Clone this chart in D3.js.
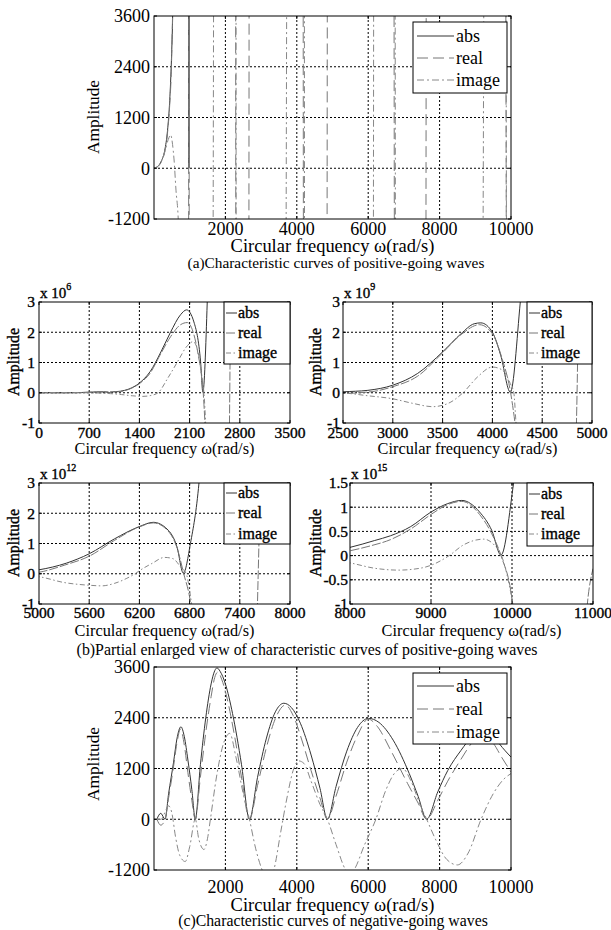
<!DOCTYPE html>
<html>
<head>
<meta charset="utf-8">
<script src="https://cdnjs.cloudflare.com/ajax/libs/d3/7.8.5/d3.min.js"></script>
<style>
body { margin: 0; background: #fff; }
svg { display: block; }
text { font-family: "Liberation Serif", "Times New Roman", serif; fill: #000; }
.heavy { stroke: #000; stroke-width: 0.35; }
</style>
</head>
<body>
<svg width="611" height="930"></svg>
<script>
const svg = d3.select("svg");

// --- POSITIVE-GOING WAVES: [omega (rad/s), value] ---
const posAbs = [
  [0, 0], [100, 40], [200, 160], [300, 420], [380, 900], [440, 1600], [490, 2600], [523, 3600],
  [560, 5500], [700, 1.8e4], [900, 3.2e4], [965, 2e4], [978, 0], [991, 2e4], [1134, 5e4],
  [1250, 1.2e5], [1400, 3.2e5], [1550, 7e5], [1700, 1.35e6], [1834, 2.0e6], [1974, 2.58e6],
  [2058, 2.74e6], [2160, 2.34e6], [2254, 1.0e6], [2285, 2e4], [2346, 3e6], [2400, 8e6],
  [2500, 3e7], [2750, 8e7], [3000, 2.5e8], [3250, 6.4e8], [3500, 1.35e9], [3685, 1.95e9],
  [3817, 2.28e9], [3884, 2.31e9], [4000, 2.0e9], [4083, 1.24e9], [4180, 2e7], [4280, 3e9],
  [4400, 8e9], [4700, 3e10], [5000, 1.3e11], [5327, 3.5e11], [5600, 6.6e11], [5900, 1.15e12],
  [6200, 1.56e12], [6366, 1.7e12], [6530, 1.48e12], [6650, 0.88e12], [6725, 2e10], [6810, 1e12],
  [6912, 3e12], [7200, 2e13], [7600, 6e13], [8000, 1.7e14], [8300, 3.1e14], [8500, 4.1e14],
  [8750, 6e14], [9000, 9e14], [9200, 1.07e15], [9380, 1.14e15], [9600, 0.9e15], [9750, 0.52e15],
  [9864, 1e13], [10020, 1.5e15], [10500, 1e16], [11000, 2e16]
];
const posReal = [
  [0, 0], [100, 35], [200, 145], [300, 390], [380, 850], [440, 1500], [490, 2450], [515, 3400],
  [560, 5500], [700, 1.5e4], [900, 2.8e4], [965, 2e4], [978, -3e4], [991, 2e4], [1134, 4e4],
  [1250, 1.1e5], [1400, 3e5], [1550, 6.5e5], [1700, 1.3e6], [1834, 1.85e6], [1974, 2.25e6],
  [2067, 2.32e6], [2150, 2.0e6], [2220, 1.25e6], [2290, 0], [2314, -1e6], [2420, -8e6],
  [2560, -1.5e7], [2620, -1e7], [2660, 0], [2720, 1.5e7], [2800, 4e7], [3000, 2e8],
  [3250, 5.5e8], [3500, 1.32e9], [3685, 1.92e9], [3870, 2.25e9], [4000, 1.95e9], [4100, 1.1e9],
  [4183, 0], [4227, -1e9], [4400, -8e9], [4650, -1e10], [4800, -5e9], [4850, 0], [4920, 2e10],
  [5000, 5e10], [5300, 2.8e11], [5600, 5.8e11], [5900, 1.1e12], [6200, 1.55e12], [6366, 1.68e12],
  [6530, 1.45e12], [6650, 0.85e12], [6730, 0], [6813, -1e12], [7000, -8e12], [7400, -1e13],
  [7570, -5e12], [7620, 0], [7700, 1e13], [8000, 1e14], [8250, 2e14], [8500, 3.3e14],
  [8750, 5.5e14], [9000, 8.5e14], [9200, 1.05e15], [9380, 1.12e15], [9600, 0.85e15],
  [9750, 0.45e15], [9864, 0], [10008, -1e15], [10300, -1e16], [10700, -1e16], [10930, -1e15],
  [11000, -2.7e14]
];
const posImag = [
  [0, 0], [100, 40], [200, 150], [300, 380], [400, 680], [467, 790], [520, 560], [560, 220],
  [616, -520], [681, -1250], [750, -3500], [850, -1e4], [1000, -3e4], [1150, -6e4], [1300, -1e5],
  [1450, -1.2e5], [1560, -9e4], [1660, 0], [1800, 5e5], [1950, 1.1e6], [2050, 1.5e6],
  [2150, 1.69e6], [2230, 1.2e6], [2280, 3e5], [2300, 0], [2324, -1e6], [2420, -6e6], [2500, -1e7],
  [2750, -1e8], [3000, -2e8], [3200, -3.5e8], [3400, -4.6e8], [3550, -3.6e8], [3705, 0],
  [3850, 5.2e8], [4000, 8.5e8], [4100, 7.5e8], [4180, 3e8], [4215, 0], [4237, -1e9], [4500, -1e10],
  [5000, -1e11], [5300, -2.9e11], [5600, -3.8e11], [5750, -4e11], [5900, -3.2e11], [6050, -1.5e11],
  [6148, 0], [6200, 1e11], [6350, 3.4e11], [6500, 5.4e11], [6600, 5e11], [6700, 2e11], [6760, 0],
  [6825, -1e12], [7200, -1e13], [8000, -1.5e14], [8300, -2.6e14], [8600, -3e14], [8900, -2.5e14],
  [9000, -2e14], [9224, 0], [9400, 2.2e14], [9650, 3.4e14], [9780, 2.2e14], [9870, 0],
  [10010, -1e15], [10500, -1e16], [11000, -2e16]
];

// --- NEGATIVE-GOING WAVES ---
const negAbs = [
  [80, 0], [190, 140], [310, 0], [408, 600], [548, 1350], [642, 1900], [754, 2186], [850, 1950],
  [950, 1400], [1060, 700], [1157, 0], [1300, 1290], [1450, 2400], [1600, 3200], [1700, 3510],
  [1765, 3578], [1850, 3500], [2000, 3200], [2200, 2500], [2450, 1300], [2673, 0], [2900, 990],
  [3150, 1920], [3400, 2540], [3637, 2743], [3850, 2640], [4100, 2270], [4400, 1520], [4650, 730],
  [4857, 0], [5100, 775], [5400, 1610], [5700, 2170], [6008, 2385], [6300, 2290], [6700, 1870],
  [7150, 1080], [7400, 540], [7637, 0], [7950, 650], [8227, 1150], [8601, 1630], [8900, 1950],
  [9200, 2130], [9450, 2050], [9678, 1780], [10000, 1470]
];
const negReal = [
  [80, 0], [190, -140], [310, 0], [408, 500], [548, 1250], [642, 1800], [740, 2130], [850, 1750],
  [950, 1100], [1060, 450], [1157, 0], [1300, 1000], [1450, 2050], [1600, 2900], [1700, 3350],
  [1790, 3480], [1900, 3300], [2050, 2850], [2250, 2000], [2450, 1000], [2673, 0], [2900, 800],
  [3150, 1700], [3400, 2380], [3680, 2700], [3900, 2450], [4150, 1850], [4400, 1150], [4650, 500],
  [4857, 0], [5100, 550], [5400, 1350], [5700, 1980], [6000, 2370], [6250, 2200], [6650, 1600],
  [7100, 850], [7400, 380], [7637, 0], [7950, 450], [8227, 900], [8600, 1420], [8900, 1800],
  [9200, 2000], [9500, 1800], [9750, 1450], [10000, 1120]
];
const negImag = [
  [80, 0], [200, 0], [300, 150], [408, 318], [500, 150], [600, -400], [720, -850], [876, -1000],
  [1000, -650], [1157, 0], [1250, -450], [1400, -715], [1500, -450], [1580, 0], [1750, 1000],
  [1950, 1800], [2120, 2030], [2300, 1450], [2500, 600], [2673, 0], [2850, -700], [3030, -1200],
  [3200, -1450], [3356, -1200], [3550, -300], [3700, 400], [3917, 1200], [4050, 1380], [4200, 1320],
  [4400, 900], [4650, 350], [4857, 0], [5100, -600], [5370, -1200], [5480, -1300], [5600, -1200],
  [5900, -600], [6215, 0], [6500, 700], [6750, 1100], [6963, 1200], [7200, 900], [7450, 350],
  [7637, 0], [7900, -500], [8200, -950], [8500, -1080], [8800, -800], [9163, 0], [9500, 600],
  [9800, 950], [10000, 1080]
];

// --- TICKS AND TEXTS ---
const ticksWideX = [2000, 4000, 6000, 8000, 10000];
const ticksWideY = [-1200, 0, 1200, 2400, 3600];
const ticksB1X = [0, 700, 1400, 2100, 2800, 3500];
const ticksB2X = [2500, 3000, 3500, 4000, 4500, 5000];
const ticksB3X = [5000, 5600, 6200, 6800, 7400, 8000];
const ticksB4X = [8000, 9000, 10000, 11000];
const ticksBY = [-1, 0, 1, 2, 3];
const ticksB4Y = [-1, -0.5, 0, 0.5, 1, 1.5];
const legendNames = ["abs", "real", "image"];
const xTitle = "Circular frequency \u03c9(rad/s)";
const yTitle = "Amplitude";
const captionA = "(a)Characteristic curves of positive-going waves";
const captionB = "(b)Partial enlarged view of characteristic curves of positive-going waves";
const captionC = "(c)Characteristic curves of negative-going waves";

// --- LINE STYLES ---
const wideStyle = [
  { color: "#333", dash: null },
  { color: "#777", dash: "11,5" },
  { color: "#888", dash: "7,3,2,3" }
];
const smallStyle = [
  { color: "#333", dash: null },
  { color: "#777", dash: "9,2" },
  { color: "#888", dash: "5,2.5,1.5,2.5" }
];

function fitText(sel, target) {
  const w = sel.node().getComputedTextLength();
  const fs = parseFloat(sel.attr("font-size"));
  sel.attr("font-size", (fs * target / w).toFixed(2));
}

function drawPanel(p) {
  const x = d3.scaleLinear().domain(p.xDomain).range([p.left, p.right]);
  const y = d3.scaleLinear().domain(p.yDomain).range([p.bottom, p.top]);
  const g = svg.append("g");
  const clipId = "clip-" + p.id;
  g.append("clipPath").attr("id", clipId).append("rect")
    .attr("x", p.left).attr("y", p.top)
    .attr("width", p.right - p.left).attr("height", p.bottom - p.top);

  // grid
  const innerX = p.xTicks.filter(t => t > p.xDomain[0] && t < p.xDomain[1]);
  const innerY = p.yTicks.filter(t => t > p.yDomain[0] && t < p.yDomain[1]);
  g.append("g").selectAll("line").data(innerX).join("line")
    .attr("x1", d => x(d)).attr("x2", d => x(d))
    .attr("y1", p.top).attr("y2", p.bottom)
    .attr("stroke", "#000").attr("stroke-width", 1).attr("stroke-dasharray", "2,2");
  g.append("g").selectAll("line").data(innerY).join("line")
    .attr("y1", d => y(d)).attr("y2", d => y(d))
    .attr("x1", p.left).attr("x2", p.right)
    .attr("stroke", "#000").attr("stroke-width", 1).attr("stroke-dasharray", "2,2");

  // curves (values far off the axis are clamped so paths stay finite)
  const span = p.yDomain[1] - p.yDomain[0];
  const lo = p.yDomain[0] - 10 * span, hi = p.yDomain[1] + 10 * span;
  const line = d3.line()
    .x(d => x(d[0]))
    .y(d => y(Math.max(lo, Math.min(hi, d[1] / p.unit))))
    .curve(d3.curveMonotoneX);
  p.series.forEach((s, i) => {
    g.append("path")
      .attr("clip-path", `url(#${clipId})`)
      .attr("d", line(s))
      .attr("fill", "none")
      .attr("stroke", p.styles[i].color)
      .attr("stroke-width", 1)
      .attr("stroke-dasharray", p.styles[i].dash);
  });

  // frame and inward ticks
  g.append("rect")
    .attr("x", p.left).attr("y", p.top)
    .attr("width", p.right - p.left).attr("height", p.bottom - p.top)
    .attr("fill", "none").attr("stroke", "#000");
  const tl = 3;
  g.append("g").selectAll("path").data(p.xTicks).join("path")
    .attr("d", d => `M${x(d)},${p.bottom}v${-tl}M${x(d)},${p.top}v${tl}`)
    .attr("stroke", "#000");
  g.append("g").selectAll("path").data(p.yTicks).join("path")
    .attr("d", d => `M${p.left},${y(d)}h${tl}M${p.right},${y(d)}h${-tl}`)
    .attr("stroke", "#000");

  // tick labels
  g.append("g").selectAll("text").data(p.xTicks).join("text")
    .attr("x", d => x(d)).attr("y", p.xTickBase)
    .attr("text-anchor", "middle").attr("font-size", p.tickFont)
    .attr("class", p.heavy ? "heavy" : null)
    .text(d => String(d));
  g.append("g").selectAll("text").data(p.yTicks).join("text")
    .attr("x", p.yTickRight).attr("y", d => y(d)).attr("dy", "0.35em")
    .attr("text-anchor", "end").attr("font-size", p.tickFont)
    .attr("class", p.heavy ? "heavy" : null)
    .text(d => String(d));

  // axis titles
  const xt = g.append("text")
    .attr("x", (p.left + p.right) / 2).attr("y", p.xTitleBase)
    .attr("text-anchor", "middle").attr("font-size", p.titleFont)
    .text(xTitle);
  fitText(xt, p.xTitleWidth);
  const yt = g.append("text")
    .attr("transform", `translate(${p.yTitleX},${p.yTitleY}) rotate(-90)`)
    .attr("text-anchor", "middle").attr("font-size", p.titleFont)
    .attr("class", p.heavy ? "heavy" : null)
    .text(yTitle);
  fitText(yt, p.yTitleWidth);

  // exponent label
  if (p.power) {
    const ex = g.append("text")
      .attr("x", p.left + 1).attr("y", p.top - 4)
      .attr("font-size", 15).attr("class", "heavy");
    ex.append("tspan").text("x 10");
    ex.append("tspan").attr("dy", -8).attr("font-size", 10).text(p.power);
  }

  // legend
  const L = p.legend;
  const lg = g.append("g");
  lg.append("rect")
    .attr("x", L.x).attr("y", L.y).attr("width", L.w).attr("height", L.h)
    .attr("fill", "#fff").attr("stroke", "#000");
  legendNames.forEach((name, i) => {
    lg.append("line")
      .attr("x1", L.x1).attr("x2", L.x2).attr("y1", L.rows[i]).attr("y2", L.rows[i])
      .attr("stroke", p.styles[i].color).attr("stroke-dasharray", p.styles[i].dash);
    lg.append("text")
      .attr("x", L.tx).attr("y", L.rows[i]).attr("dy", "0.33em")
      .attr("font-size", L.font).attr("class", p.heavy ? "heavy" : null)
      .text(name);
  });
}

const panels = [
  {
    id: "a", left: 154, right: 511, top: 16, bottom: 219,
    xDomain: [0, 10000], yDomain: [-1200, 3600], unit: 1,
    xTicks: ticksWideX, yTicks: ticksWideY, series: [posAbs, posReal, posImag], styles: wideStyle,
    tickFont: 18, titleFont: 18.5, xTickBase: 235, yTickRight: 150,
    xTitleBase: 252, xTitleWidth: 204, yTitleX: 99, yTitleY: 117, yTitleWidth: 74,
    legend: { x: 413, y: 22, w: 94, h: 71, x1: 417, x2: 454, tx: 456, rows: [36, 58, 80], font: 18 }
  },
  {
    id: "b1", left: 39, right: 290, top: 302, bottom: 423,
    xDomain: [0, 3500], yDomain: [-1, 3], unit: 1e6, power: "6", heavy: true,
    xTicks: ticksB1X, yTicks: ticksBY, series: [posAbs, posReal, posImag], styles: smallStyle,
    tickFont: 15.5, titleFont: 16, xTickBase: 438, yTickRight: 35,
    xTitleBase: 454, xTitleWidth: 180, yTitleX: 19, yTitleY: 362, yTitleWidth: 68,
    legend: { x: 224, y: 302, w: 66, h: 62, x1: 226, x2: 237, tx: 238, rows: [313, 333, 353], font: 16 }
  },
  {
    id: "b2", left: 343, right: 592, top: 302, bottom: 423,
    xDomain: [2500, 5000], yDomain: [-1, 3], unit: 1e9, power: "9", heavy: true,
    xTicks: ticksB2X, yTicks: ticksBY, series: [posAbs, posReal, posImag], styles: smallStyle,
    tickFont: 15.5, titleFont: 16, xTickBase: 438, yTickRight: 340,
    xTitleBase: 454, xTitleWidth: 180, yTitleX: 321, yTitleY: 362, yTitleWidth: 68,
    legend: { x: 527, y: 302, w: 65, h: 62, x1: 529, x2: 540, tx: 541, rows: [313, 333, 353], font: 16 }
  },
  {
    id: "b3", left: 39, right: 290, top: 483, bottom: 604,
    xDomain: [5000, 8000], yDomain: [-1, 3], unit: 1e12, power: "12", heavy: true,
    xTicks: ticksB3X, yTicks: ticksBY, series: [posAbs, posReal, posImag], styles: smallStyle,
    tickFont: 15.5, titleFont: 16, xTickBase: 618, yTickRight: 35,
    xTitleBase: 636, xTitleWidth: 180, yTitleX: 19, yTitleY: 543, yTitleWidth: 68,
    legend: { x: 224, y: 483, w: 66, h: 61, x1: 226, x2: 237, tx: 238, rows: [493, 513, 534], font: 16 }
  },
  {
    id: "b4", left: 350, right: 593, top: 483, bottom: 604,
    xDomain: [8000, 11000], yDomain: [-1, 1.5], unit: 1e15, power: "15", heavy: true,
    xTicks: ticksB4X, yTicks: ticksB4Y, series: [posAbs, posReal, posImag], styles: smallStyle,
    tickFont: 15.5, titleFont: 16, xTickBase: 618, yTickRight: 348,
    xTitleBase: 636, xTitleWidth: 180, yTitleX: 321, yTitleY: 543, yTitleWidth: 68,
    legend: { x: 527, y: 483, w: 66, h: 63, x1: 529, x2: 540, tx: 541, rows: [494, 514, 534], font: 16 }
  },
  {
    id: "c", left: 154, right: 511, top: 667, bottom: 870,
    xDomain: [0, 10000], yDomain: [-1200, 3600], unit: 1,
    xTicks: ticksWideX, yTicks: ticksWideY, series: [negAbs, negReal, negImag], styles: wideStyle,
    tickFont: 18, titleFont: 18.5, xTickBase: 893, yTickRight: 150,
    xTitleBase: 911, xTitleWidth: 204, yTitleX: 99, yTitleY: 764, yTitleWidth: 74,
    legend: { x: 413, y: 673, w: 94, h: 71, x1: 417, x2: 454, tx: 456, rows: [686, 709, 732], font: 18 }
  }
];

panels.forEach(drawPanel);

// --- CAPTIONS ---
[[captionA, 336, 268, 297], [captionB, 307, 655, 461], [captionC, 333, 926, 310]].forEach(([t, cx, by, w]) => {
  const c = svg.append("text")
    .attr("x", cx).attr("y", by).attr("text-anchor", "middle")
    .attr("font-size", 15).text(t);
  fitText(c, w);
});
</script>
</body>
</html>
